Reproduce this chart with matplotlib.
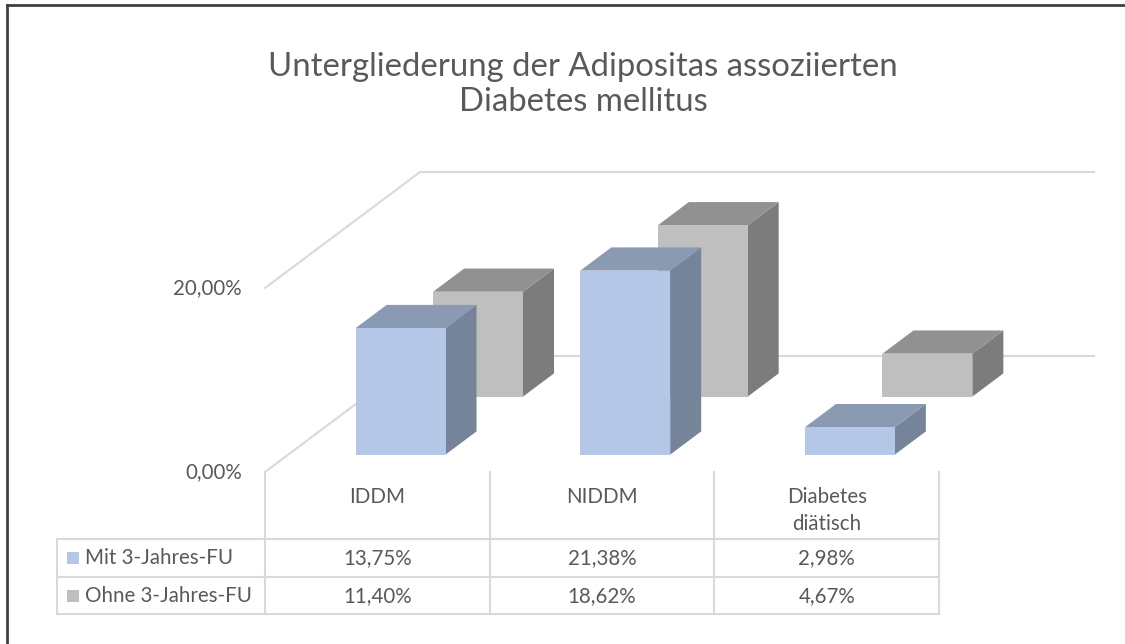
import matplotlib.pyplot as plt
from matplotlib.patches import Polygon, Rectangle
from matplotlib.lines import Line2D
import matplotlib.transforms as mtransforms

categories = ["IDDM", "NIDDM", "Diabetes\ndiätisch"]
series_names = ["Mit 3-Jahres-FU", "Ohne 3-Jahres-FU"]
mit_fu = [13.75, 21.38, 2.98]
ohne_fu = [11.40, 18.62, 4.67]
value_labels = [["13,75%", "21,38%", "2,98%"], ["11,40%", "18,62%", "4,67%"]]
y_ticks = [0, 20]
y_tick_labels = ["0,00%", "20,00%"]
title_lines = ["Untergliederung der Adipositas assoziierten", "Diabetes mellitus"]

W, H = 1125, 644
FONT = ["Lato", "DejaVu Sans"]
TXT = "#595959"
GRID = "#D9D9D9"
FS = 14.8
FS_TITLE = 23.7

front_cols = ["#B4C7E7", "#BFBFBF"]
top_cols = ["#8A9AB2", "#919191"]
side_cols = ["#758499", "#7C7C7C"]

plt.rcParams["font.family"] = FONT


def fx(x):
    return x / W


def fy(y):
    return 1 - y / H


fig = plt.figure(figsize=(W / 100, H / 100), dpi=100)

# front plane of the 3D plot: categories 0..3 on x, 0..20 % on y
ax = fig.add_axes([fx(265), fy(472), fx(939) - fx(265), fy(288) - fy(472)])
ax.set_xlim(0, 3)
ax.set_ylim(0, 20)
ax.axis("off")

ymax = 20
DX = 155 / (674 / 3)   # depth offset in category units
DY = 116 / (184 / 20)  # depth offset in percent units
bar_w = 0.4
bar_d = 0.2
slots = [0.15, 0.65]

# walls (gridlines)
for v in y_ticks:
    ax.add_line(Line2D([0, DX], [v, v + DY], color=GRID, lw=1.5, clip_on=False, zorder=1))
    ax.add_line(Line2D([DX, 3 + DX], [v + DY, v + DY], color=GRID, lw=1.5, clip_on=False, zorder=1))


def draw_bar(xc, h, d0, s, z):
    d1 = d0 + bar_d
    x0, x1 = xc - bar_w / 2, xc + bar_w / 2
    h = min(h, ymax)  # excel clips at the axis max
    front = [(x0 + d0 * DX, d0 * DY), (x1 + d0 * DX, d0 * DY),
             (x1 + d0 * DX, h + d0 * DY), (x0 + d0 * DX, h + d0 * DY)]
    top = [(x0 + d0 * DX, h + d0 * DY), (x1 + d0 * DX, h + d0 * DY),
           (x1 + d1 * DX, h + d1 * DY), (x0 + d1 * DX, h + d1 * DY)]
    side = [(x1 + d0 * DX, d0 * DY), (x1 + d1 * DX, d1 * DY),
            (x1 + d1 * DX, h + d1 * DY), (x1 + d0 * DX, h + d0 * DY)]
    for pts, c in ((side, side_cols[s]), (top, top_cols[s]), (front, front_cols[s])):
        ax.add_patch(Polygon(pts, closed=True, facecolor=c, edgecolor="none",
                             clip_on=False, zorder=z))


series = [mit_fu, ohne_fu]
# back series first
for s in (1, 0):
    for i, v in enumerate(series[s]):
        draw_bar(i + 0.5, v, slots[s], s, 3 - s)

# y tick labels
ytr = mtransforms.blended_transform_factory(fig.transFigure, ax.transData)
for v, lab in zip(y_ticks, y_tick_labels):
    ax.text(fx(242), v, lab, transform=ytr, ha="right", va="center",
            fontsize=FS, color=TXT)

# data table
xtr = mtransforms.blended_transform_factory(ax.transData, fig.transFigure)
for k in range(4):
    ax.add_line(Line2D([k, k], [fy(472), fy(614)], transform=xtr, color=GRID,
                       lw=1.5, clip_on=False))
for yy in (539, 577, 614):
    fig.add_artist(Line2D([fx(57), fx(939)], [fy(yy), fy(yy)], color=GRID, lw=1.5))
fig.add_artist(Line2D([fx(57), fx(57)], [fy(539), fy(614)], color=GRID, lw=1.5))

for i, cat in enumerate(categories):
    ax.text(i + 0.5, fy(487), cat, transform=xtr, ha="center", va="top",
            fontsize=FS, color=TXT, linespacing=1.45)

row_y = [558, 596]
for s, name in enumerate(series_names):
    fig.add_artist(Rectangle((fx(67), fy(row_y[s] + 6)), fx(12), 12 / H,
                             facecolor=front_cols[s], edgecolor="none"))
    fig.text(fx(85), fy(row_y[s]), name, ha="left", va="center",
             fontsize=FS, color=TXT)
    for i, lab in enumerate(value_labels[s]):
        ax.text(i + 0.5, fy(row_y[s]), lab, transform=xtr, ha="center",
                va="center", fontsize=FS, color=TXT)

# title
for ty, line in zip((67, 102), title_lines):
    fig.text(fx(583), fy(ty), line, ha="center", va="center",
             fontsize=FS_TITLE, color=TXT)

# chart frame (left and top visible)
fig.add_artist(Line2D([fx(7), fx(7)], [fy(5), 0], color="#404040", lw=2))
fig.add_artist(Line2D([fx(7), 1], [fy(5), fy(5)], color="#404040", lw=2))

fig.savefig("out.png", dpi=100, facecolor="white")
